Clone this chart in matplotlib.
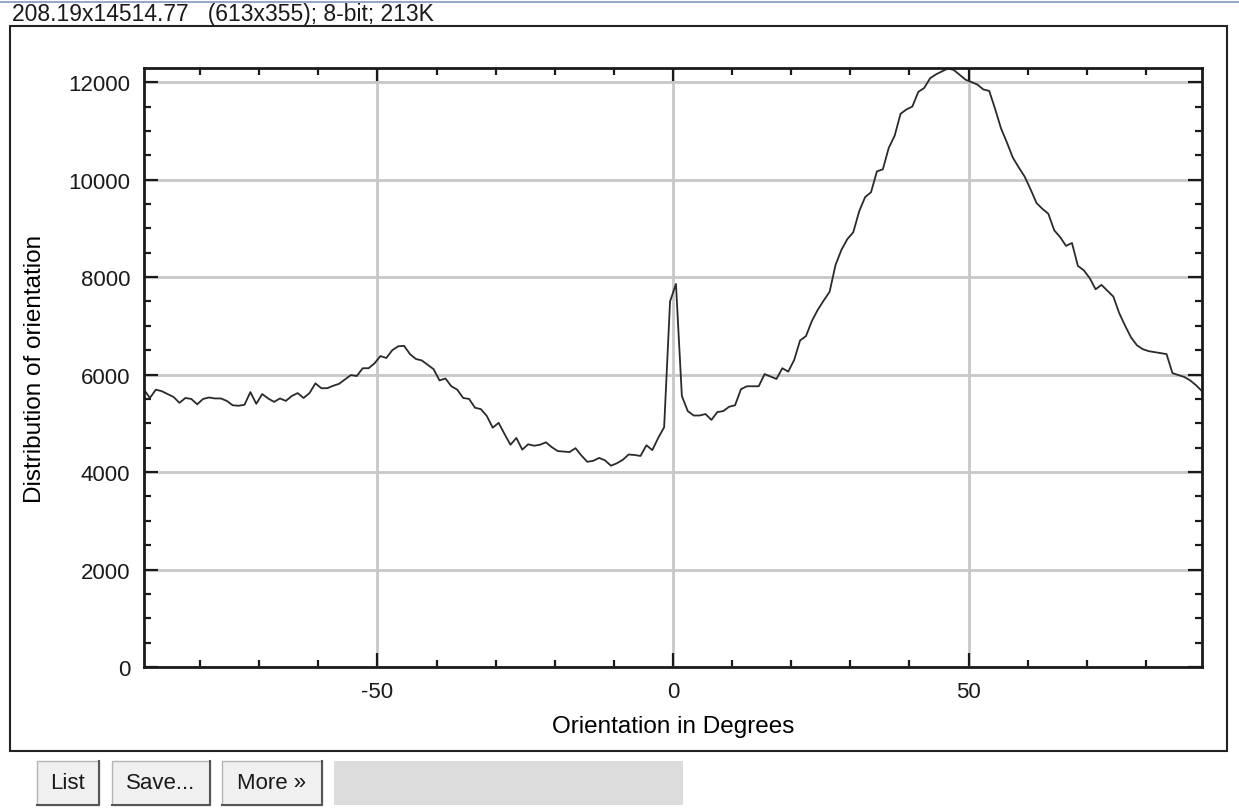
import matplotlib.pyplot as plt
from matplotlib.patches import Rectangle
from matplotlib.lines import Line2D
import numpy as np

plt.rcParams['font.family'] = ['Liberation Sans', 'DejaVu Sans']
plt.rcParams['axes.unicode_minus'] = False

W, H = 1239, 812

# texts
header = "208.19x14514.77   (613x355); 8-bit; 213K"
x_label = "Orientation in Degrees"
y_label = "Distribution of orientation"
button_names = ["List", "Save...", "More \u00bb"]

# data (one value per degree bin)
angles = np.arange(-89.5, 90, 1.0)
counts = [
    5690, 5520, 5690, 5660, 5600, 5540, 5420, 5520, 5500, 5390,
    5500, 5530, 5510, 5510, 5460, 5370, 5360, 5380, 5640, 5400,
    5600, 5510, 5440, 5510, 5460, 5560, 5620, 5520, 5620, 5820,
    5720, 5720, 5770, 5810, 5900, 5990, 5970, 6130, 6130, 6230,
    6380, 6340, 6500, 6580, 6590, 6420, 6320, 6290, 6200, 6110,
    5880, 5920, 5760, 5690, 5520, 5500, 5320, 5290, 5150, 4910,
    5010, 4780, 4560, 4700, 4460, 4570, 4540, 4560, 4610, 4510,
    4430, 4420, 4410, 4490, 4340, 4210, 4230, 4290, 4240, 4130,
    4180, 4250, 4360, 4350, 4330, 4550, 4450, 4700, 4920, 7500,
    7860, 5560, 5250, 5160, 5160, 5190, 5070, 5230, 5250, 5340,
    5370, 5700, 5760, 5760, 5760, 6010, 5960, 5910, 6130, 6060,
    6300, 6700, 6790, 7100, 7330, 7520, 7700, 8250, 8560, 8780,
    8920, 9350, 9640, 9740, 10170, 10210, 10650, 10900, 11350, 11440,
    11500, 11800, 11880, 12080, 12160, 12220, 12280, 12250, 12150, 12050,
    12000, 11950, 11850, 11820, 11450, 11050, 10760, 10450, 10250, 10060,
    9800, 9520, 9400, 9300, 8960, 8820, 8640, 8700, 8230, 8140,
    7980, 7750, 7840, 7720, 7600, 7260, 7000, 6760, 6600, 6520,
    6480, 6460, 6440, 6420, 6030, 5990, 5950, 5880, 5780, 5660,
]


def fx(px):
    return px / W


def fy(py):
    return 1 - py / H


fig = plt.figure(figsize=(W / 100, H / 100), dpi=100)
fig.patch.set_facecolor('white')

# window decoration: top line, header text, frame
fig.add_artist(Line2D([0, 1], [fy(3), fy(3)], color='#9aa8c8', lw=1.5,
                      transform=fig.transFigure))
fig.text(fx(12), fy(14), header, ha='left', va='center', fontsize=16.5,
         color='#1a1a1a')
fig.add_artist(Rectangle((fx(10), fy(752)), fx(1227) - fx(10), fy(27) - fy(752),
                         fill=False, edgecolor='#222222', lw=1.5,
                         transform=fig.transFigure))

# the plot
ax = fig.add_axes([fx(144), fy(668), fx(1202) - fx(144), fy(69) - fy(668)])
ax.plot(angles, counts, color='#2a2a2a', lw=1.3)
ax.set_xlim(-89.5, 89.5)
ax.set_ylim(0, 12290)
ax.set_xticks([-50, 0, 50])
ax.set_xticks(np.arange(-80, 90, 10), minor=True)
ax.set_yticks(np.arange(0, 12001, 2000))
ax.set_yticks(np.arange(0, 12290, 500), minor=True)
ax.grid(True, which='major', color='#c8c8c8', lw=2)
ax.set_axisbelow(True)
ax.tick_params(which='both', direction='in', top=True, right=True,
               width=1.6, labelsize=16, pad=10, colors='#1a1a1a')
ax.tick_params(which='major', length=10)
ax.tick_params(which='minor', length=5)
for s in ax.spines.values():
    s.set_linewidth(2)
    s.set_color('#1a1a1a')

ax.set_xlabel(x_label, fontsize=17.5, va='center')
ax.xaxis.set_label_coords(0.5, -(727 - 668) / 599)
ax.set_ylabel(y_label, fontsize=17.5, va='center')
ax.yaxis.set_label_coords((35 - 144) / 1058, 0.5)

# buttons under the plot
btn_x = [(37, 99), (112, 210), (222, 322)]
for (x0, x1), name in zip(btn_x, button_names):
    fig.add_artist(Rectangle((fx(x0), fy(806)), fx(x1) - fx(x0), fy(762) - fy(806),
                             facecolor='#f0f0f0', edgecolor='#b4b4b4', lw=1,
                             transform=fig.transFigure))
    fig.add_artist(Line2D([fx(x0), fx(x1), fx(x1)], [fy(806), fy(806), fy(762)],
                          color='#555555', lw=1.5, transform=fig.transFigure))
    fig.text(fx((x0 + x1) / 2), fy(784), name, ha='center', va='center',
             fontsize=16, color='#1a1a1a')
fig.add_artist(Rectangle((fx(334), fy(806)), fx(683) - fx(334), fy(762) - fy(806),
                         facecolor='#dcdcdc', edgecolor='none',
                         transform=fig.transFigure))

fig.savefig('out.png', dpi=100)
